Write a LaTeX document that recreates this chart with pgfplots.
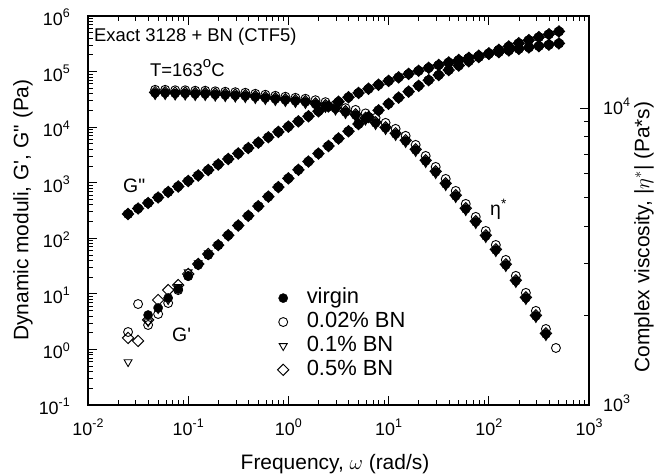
\documentclass[border=0pt]{standalone}
\usepackage{fontspec}
\setmainfont{Liberation Sans}
\usepackage{pgfplots}
\usepackage{pgfplotstable}
\pgfplotsset{compat=1.18}

\newcommand\tl[1]{10\raisebox{0.42em}{\fontsize{12.5}{12.5}\selectfont #1}}

\pgfplotstableread{
w gv gc gt gd gpp
0.02512 nan 2.06 0.594 1.61 273.5
0.03162 nan 6.56 nan 1.42 343.6
0.03981 4.16 2.75 3.11 3.40 431.5
0.05012 5.56 4.34 5.34 7.75 542.0
0.06310 8.42 6.84 7.75 11.7 680.8
0.07943 12.2 11.7 13.3 14.4 855.1
0.1000 20.9 20.9 24.7 22.8 1074
0.1259 33.0 34.4 35.9 34.4 1349
0.1585 50.0 51.0 54.3 52.1 1694
0.1995 75.3 75.3 75.3 75.3 2128
0.2512 113.2 113.2 113.2 113.2 2673
0.3162 169.8 169.8 169.8 169.8 3350
0.3981 253.5 253.5 253.5 253.5 4198
0.5012 377.6 377.6 377.6 377.6 5260
0.6310 561.0 561.0 561.0 561.0 6577
0.7943 831.8 831.8 831.8 831.8 8204
1.000 1197 1197 1197 1197 10230
1.259 1706 1706 1706 1706 12710
1.585 2404 2404 2404 2404 15700
1.995 3342 3342 3342 3342 19320
2.512 4581 4581 4581 4581 23600
3.162 6237 6237 6237 6237 28640
3.981 8453 8453 8453 8453 34510
5.012 11376 11376 11376 11376 41300
6.310 15205 15205 15205 15205 49090
7.943 20090 20090 20090 20090 57940
10.00 26300 26300 26300 26300 67920
12.59 34040 34040 34040 34040 78890
15.85 43650 43650 43650 43650 90780
19.95 55460 55460 55460 55460 103500
25.12 69980 69980 69980 69980 116900
31.62 86700 86700 86700 86700 131200
39.81 106200 106200 106200 106200 145900
50.12 128200 128200 128200 128200 161100
63.10 153500 153500 153500 153500 176600
79.43 182000 182000 182000 182000 192300
100.0 212800 212800 212800 212800 208000
125.9 246600 246600 246600 246600 223900
158.5 283100 283100 283100 283100 239900
199.5 323600 323600 323600 323600 255900
251.2 368100 368100 368100 368100 271600
316.2 416900 416900 416900 416900 287700
398.1 469900 469900 469900 469900 304100
501.2 527200 527200 527200 527200 320600
}\Gtab

\pgfplotstableread{
w ev ec et ed
0.04677 11230 11510 11060 11290
0.05888 11230 11510 11060 11290
0.07411 11190 11470 11020 11250
0.0933 11190 11470 11020 11250
0.1175 11150 11430 10980 11210
0.1479 11150 11430 10980 11210
0.1862 11100 11380 10930 11160
0.2344 11060 11340 10890 11120
0.2951 11020 11300 10850 11080
0.3715 10975 11250 10810 11030
0.4677 10890 11160 10730 10940
0.5888 10810 11080 10650 10860
0.7411 10720 10990 10560 10770
0.9330 10640 10910 10480 10690
1.175 10560 10820 10400 10610
1.479 10480 10740 10320 10530
1.862 10310 10620 10160 10360
2.344 10160 10460 10010 10210
2.951 9961 10260 9812 10010
3.715 9694 9985 9549 9742
4.677 9471 9850 9329 9518
5.888 9218 9587 9080 9264
7.411 8903 9259 8769 8948
9.330 8565 8908 8437 8608
11.75 8177 8504 8054 8218
14.79 7745 8055 7629 7784
18.62 7222 7511 7114 7258
23.44 6630 6895 6531 6663
29.51 6088 6332 5997 6118
37.15 5548 5770 5465 5576
46.77 5055 5257 4979 5080
58.88 4570 4753 4501 4593
74.11 4133 4298 4071 4154
93.30 3707 3855 3651 3726
117.5 3325 3458 3275 3342
147.9 2961 3079 2917 2976
186.2 2616 2721 2577 2629
234.4 2293 2385 2259 2304
295.1 1994 2074 1964 2004
371.5 1734 1803 1708 1743
467.7 nan 1556 nan nan
}\Etab

\pgfplotsset{
  vg/.style={black, only marks, mark=*, mark size=4.6pt, mark options={fill=black, draw=black, line width=0.4pt}},
  c2/.style={black, only marks, mark=o, mark size=4.5pt, mark options={draw=black, fill=none, line width=0.9pt}},
  t1/.style={black, only marks, mark=triangle, mark size=4.6pt, mark options={rotate=180, draw=black, fill=none, line width=0.9pt}},
  d5/.style={black, only marks, mark=square, mark size=4.0pt, mark options={rotate=45, draw=black, fill=none, line width=1pt}},
}

\begin{document}
\begin{tikzpicture}
\useasboundingbox (0bp,0bp) rectangle (656bp,474bp);
\begin{axis}[
  xmode=log, ymode=log,
  at={(88bp,69bp)}, anchor=south west, scale only axis,
  width=501bp, height=389bp,
  xmin=0.01, xmax=1000, ymin=0.1, ymax=1e6,
  tick align=inside,
  major tick length=9bp, minor tick length=5bp,
  every tick/.style={black, line width=0.8pt},
  axis line style={line width=1.1pt},
  ytick pos=left, xtick pos=both, xticklabel pos=bottom,
  xtick={0.01,0.1,1,10,100,1000},
  xticklabels={\tl{-2},\tl{-1},\tl{0},\tl{1},\tl{2},\tl{3}},
  minor xtick={0.02,0.03,0.04,0.05,0.06,0.07,0.08,0.09,0.2,0.3,0.4,0.5,0.6,0.7,0.8,0.9,2,3,4,5,6,7,8,9,20,30,40,50,60,70,80,90,200,300,400,500,600,700,800,900},
  ytick={0.1,1,10,100,1000,10000,100000,1000000},
  yticklabels={\tl{-1},\tl{0},\tl{1},\tl{2},\tl{3},\tl{4},\tl{5},\tl{6}},
  minor ytick={0.2,0.3,0.4,0.5,0.6,0.7,0.8,0.9,2,3,4,5,6,7,8,9,20,30,40,50,60,70,80,90,200,300,400,500,600,700,800,900,2000,3000,4000,5000,6000,7000,8000,9000,20000,30000,40000,50000,60000,70000,80000,90000,200000,300000,400000,500000,600000,700000,800000,900000},
  xticklabel style={font=\fontsize{18}{18}\selectfont, anchor=base, inner sep=0pt, yshift=-30bp},
  yticklabel style={font=\fontsize{18}{18}\selectfont, anchor=base east, inner sep=0pt, xshift=-18bp, yshift=-9.5bp},
  xlabel={Frequency, $\omega$ (rad/s)},
  ylabel={Dynamic moduli, G\textquotesingle, G\textquotedbl\ (Pa)},
  every axis x label/.style={at={(axis description cs:0.493,-0.167)}, anchor=base, font=\fontsize{21}{21}\selectfont},
  every axis y label/.style={at={(axis description cs:-0.130,0.501)}, rotate=90, anchor=center, font=\fontsize{21}{21}\selectfont},
  legend style={draw=none, fill=none, at={(axis description cs:0.378,0.306)}, anchor=north west, inner sep=0pt, row sep=0pt,
    font=\fontsize{22}{22}\selectfont, nodes={inner sep=2pt, text height=15.5pt, text depth=4.5pt},
    /tikz/every odd column/.append style={column sep=16pt}},
  legend cell align=left,
]
\addplot[vg] table[x=w,y=gv]{\Gtab}; \addlegendentry{virgin}
\addplot[c2] table[x=w,y=gc]{\Gtab}; \addlegendentry{0.02\% BN}
\addplot[t1] table[x=w,y=gt]{\Gtab}; \addlegendentry{0.1\% BN}
\addplot[d5] table[x=w,y=gd]{\Gtab}; \addlegendentry{0.5\% BN}
\addplot[vg, forget plot] table[x=w,y=gpp]{\Gtab};
\addplot[c2, forget plot] table[x=w,y=gpp]{\Gtab};
\addplot[t1, forget plot] table[x=w,y=gpp]{\Gtab};
\addplot[d5, forget plot] table[x=w,y=gpp]{\Gtab};
\end{axis}
\begin{axis}[
  xmode=log, ymode=log,
  at={(88bp,69bp)}, anchor=south west, scale only axis,
  width=501bp, height=389bp,
  xmin=0.01, xmax=1000, ymin=1000, ymax=20400,
  tick align=inside,
  major tick length=9bp, minor tick length=5bp,
  every tick/.style={black, line width=0.8pt},
  axis line style={line width=1.1pt},
  axis x line=none, axis y line*=right,
  ytick={1000,10000}, yticklabels={\tl{3},\tl{4}},
  minor ytick={2000,3000,4000,5000,6000,7000,8000,9000},
  yticklabel style={font=\fontsize{18}{18}\selectfont, anchor=base west, inner sep=0pt, xshift=14bp, yshift=-6.5bp},
  ylabel={Complex viscosity, |$\eta^{*}$| (Pa*s)},
  every axis y label/.style={at={(axis description cs:1.110,0.432)}, rotate=90, anchor=center, font=\fontsize{21}{21}\selectfont},
]
\addplot[vg] table[x=w,y=ev]{\Etab};
\addplot[c2] table[x=w,y=ec]{\Etab};
\addplot[t1] table[x=w,y=et]{\Etab};
\addplot[d5] table[x=w,y=ed]{\Etab};
\end{axis}
\node[anchor=base west, inner sep=0pt, font=\fontsize{18.5}{18.5}\selectfont] at (94bp,432bp) {Exact 3128 + BN (CTF5)};
\node[anchor=base west, inner sep=0pt, font=\fontsize{18.5}{18.5}\selectfont] at (150bp,397bp) {T=163\raisebox{0.5em}{\fontsize{15}{15}\selectfont o}C};
\node[anchor=base west, inner sep=0pt, font=\fontsize{19.5}{19.5}\selectfont] at (123bp,281bp) {G\textquotedbl};
\node[anchor=base west, inner sep=0pt, font=\fontsize{19.5}{19.5}\selectfont] at (172bp,132bp) {G\textquotesingle};
\node[anchor=base west, inner sep=0pt, font=\fontsize{19.5}{19.5}\selectfont] at (490bp,258bp) {η\textsuperscript{*}};
\end{tikzpicture}
\end{document}
